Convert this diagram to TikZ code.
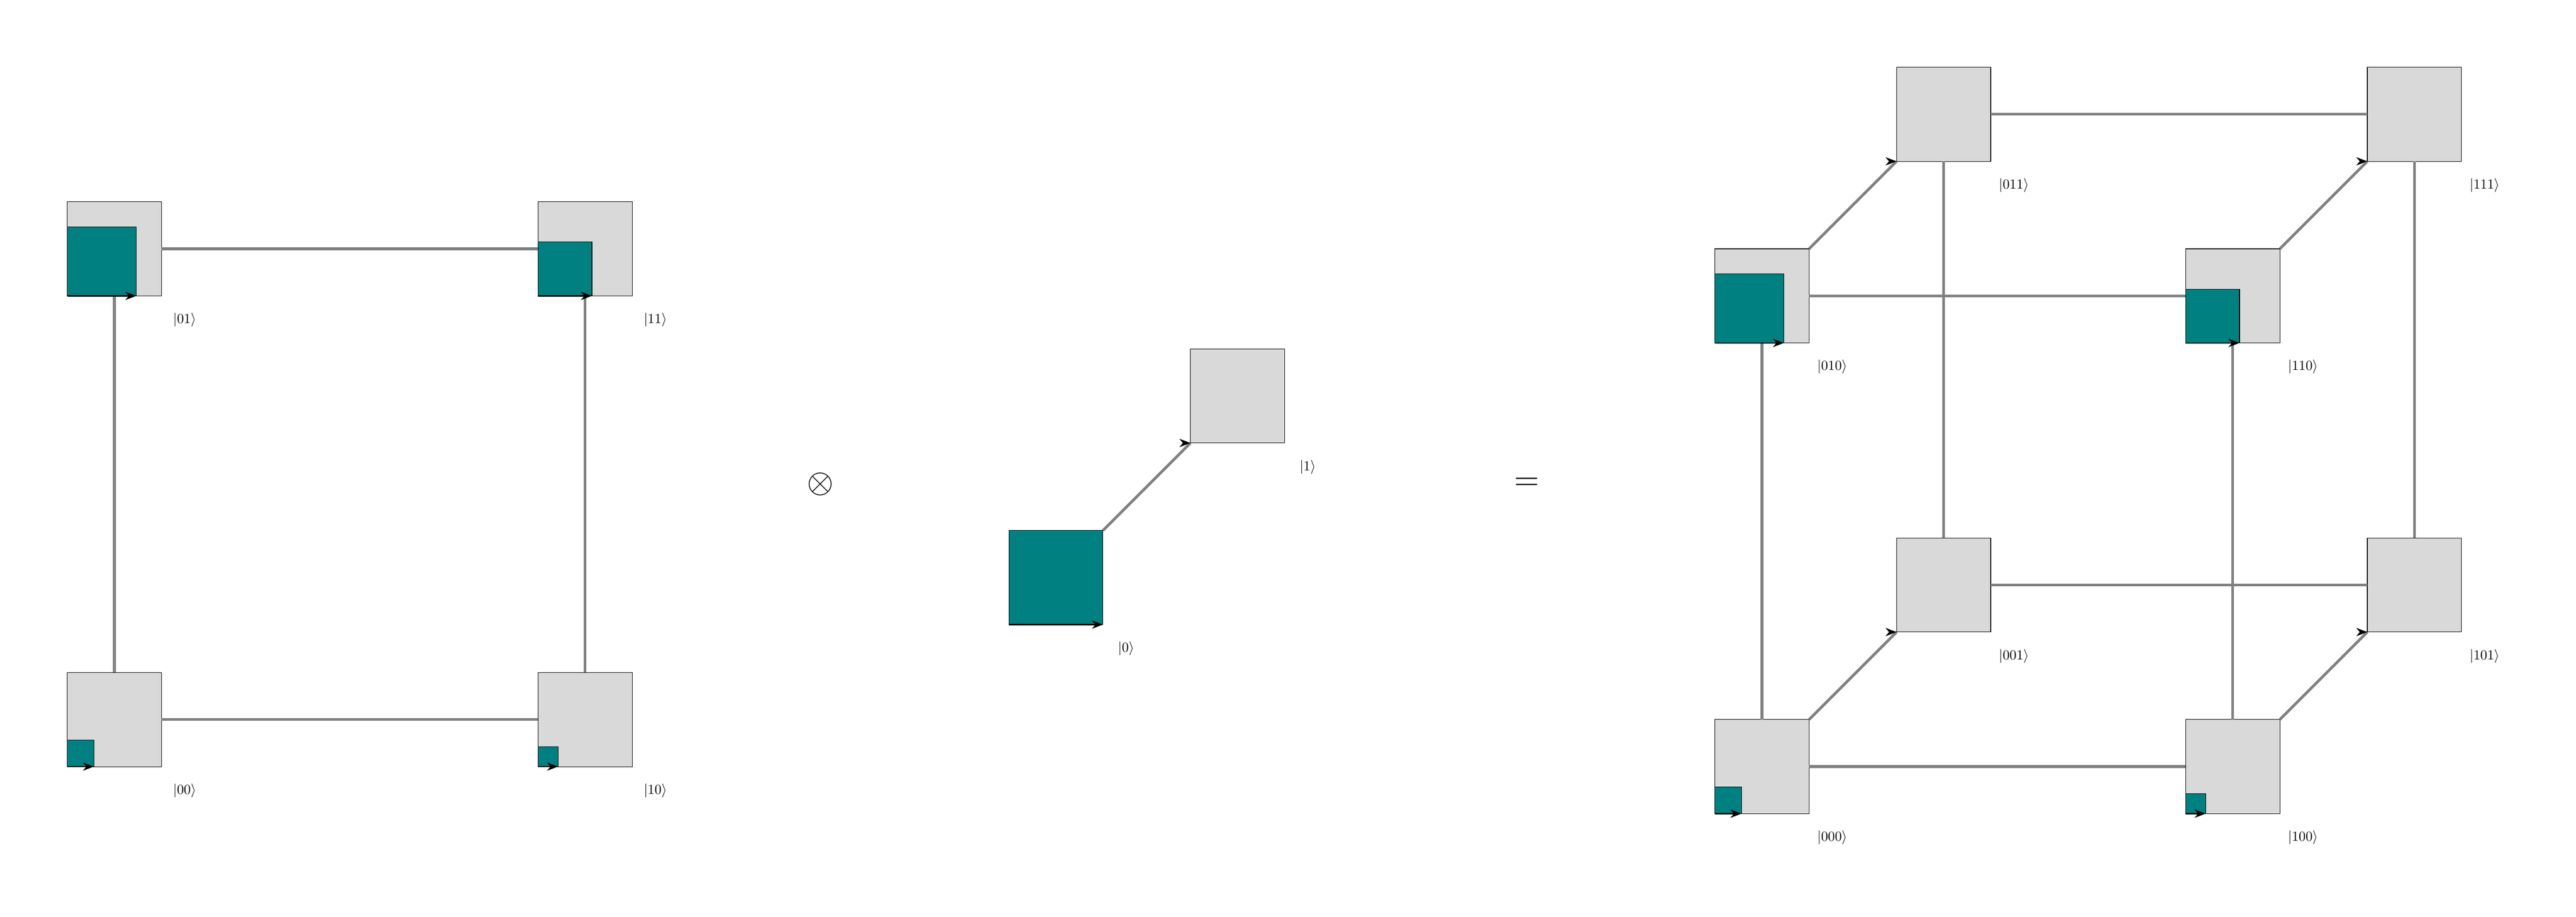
\documentclass[tikz,border=0pt]{standalone}
\usepackage{amssymb}
\usepackage{amsmath}
\usepackage{tikz}
\usetikzlibrary{arrows.meta}

\newcommand{\ket}[1]{\lvert #1\rangle}

\tikzset{
  cell/.style={draw, fill=gray!30, minimum size=2.4cm, inner sep=0pt, outer sep=0pt},
  amp/.style={draw, fill=teal},
  phase/.style={-{Stealth[length=8pt,width=6pt,inset=2.5pt]}, line width=0.9pt},
  link/.style={draw=gray, line width=2pt},
}

\begin{document}
\begin{tikzpicture}
  \useasboundingbox (-2.917,-5.027) rectangle (62.75,18.343);

  % two qubits
  \node[cell] (b00) at (0,0) {};
  \node[cell] (b10) at (12,0) {};
  \node[cell] (b01) at (0,12) {};
  \node[cell] (b11) at (12,12) {};

  \draw[link] (b00.east) -- (b10.west);
  \draw[link] (b01.east) -- (b11.west);
  \draw[link] (b00.north) -- (b01.south);
  \draw[link] (b10.north) -- (b11.south);

  \draw[amp] (b00.south west) rectangle ++(0.677,0.677);
  \draw[amp] (b10.south west) rectangle ++(0.509,0.509);
  \draw[amp] (b01.south west) rectangle ++(1.759,1.759);
  \draw[amp] (b11.south west) rectangle ++(1.373,1.373);
  \draw[phase] (b00.south west) -- ++(0.677,0);
  \draw[phase] (b10.south west) -- ++(0.509,0);
  \draw[phase] (b01.south west) -- ++(1.759,0);
  \draw[phase] (b11.south west) -- ++(1.373,0);

  \node (t00) at ([shift={(0.59,-0.61)}]b00.south east) {$\ket{00}$};
  \node (t10) at ([shift={(0.59,-0.61)}]b10.south east) {$\ket{10}$};
  \node (t01) at ([shift={(0.59,-0.61)}]b01.south east) {$\ket{01}$};
  \node (t11) at ([shift={(0.59,-0.61)}]b11.south east) {$\ket{11}$};

  \node (otimes) at (18,6) {\Huge $\otimes$};

  % one qubit
  \node[cell] (k0) at (24,3.62) {};
  \node[cell] (k1) at (28.63,8.25) {};

  \draw[link] (k0.north east) -- (k1.south west);

  \draw[amp] (k0.south west) rectangle ++(2.4,2.4);
  \draw[phase] (k0.south west) -- ++(2.4,0);
  \draw[phase] ([xshift=-1pt]k1.south west) -- (k1.south west);

  \node (t0) at ([shift={(0.59,-0.61)}]k0.south east) {$\ket{0}$};
  \node (t1) at ([shift={(0.59,-0.61)}]k1.south east) {$\ket{1}$};

  \node (eq) at (36,6) {\Huge $=$};

  % three qubits
  \node[cell] (b000) at (42,-1.2) {};
  \node[cell] (b100) at (54,-1.2) {};
  \node[cell] (b010) at (42,10.8) {};
  \node[cell] (b110) at (54,10.8) {};
  \node[cell] (b001) at (46.63,3.43) {};
  \node[cell] (b101) at (58.63,3.43) {};
  \node[cell] (b011) at (46.63,15.43) {};
  \node[cell] (b111) at (58.63,15.43) {};

  \draw[link] (b001.east) -- (b101.west);
  \draw[link] (b011.east) -- (b111.west);
  \draw[link] (b001.north) -- (b011.south);
  \draw[link] (b101.north) -- (b111.south);
  \draw[link] (b000.east) -- (b100.west);
  \draw[link] (b010.east) -- (b110.west);
  \draw[link] (b000.north) -- (b010.south);
  \draw[link] (b100.north) -- (b110.south);
  \draw[link] (b000.north east) -- (b001.south west);
  \draw[link] (b100.north east) -- (b101.south west);
  \draw[link] (b010.north east) -- (b011.south west);
  \draw[link] (b110.north east) -- (b111.south west);

  \draw[amp] (b000.south west) rectangle ++(0.677,0.677);
  \draw[amp] (b100.south west) rectangle ++(0.509,0.509);
  \draw[amp] (b010.south west) rectangle ++(1.759,1.759);
  \draw[amp] (b110.south west) rectangle ++(1.373,1.373);
  \draw[phase] (b000.south west) -- ++(0.677,0);
  \draw[phase] (b100.south west) -- ++(0.509,0);
  \draw[phase] (b010.south west) -- ++(1.759,0);
  \draw[phase] (b110.south west) -- ++(1.373,0);
  \draw[phase] ([xshift=-1pt]b001.south west) -- (b001.south west);
  \draw[phase] ([xshift=-1pt]b101.south west) -- (b101.south west);
  \draw[phase] ([xshift=-1pt]b011.south west) -- (b011.south west);
  \draw[phase] ([xshift=-1pt]b111.south west) -- (b111.south west);

  \node (t000) at ([shift={(0.59,-0.61)}]b000.south east) {$\ket{000}$};
  \node (t100) at ([shift={(0.59,-0.61)}]b100.south east) {$\ket{100}$};
  \node (t010) at ([shift={(0.59,-0.61)}]b010.south east) {$\ket{010}$};
  \node (t110) at ([shift={(0.59,-0.61)}]b110.south east) {$\ket{110}$};
  \node (t001) at ([shift={(0.59,-0.61)}]b001.south east) {$\ket{001}$};
  \node (t101) at ([shift={(0.59,-0.61)}]b101.south east) {$\ket{101}$};
  \node (t011) at ([shift={(0.59,-0.61)}]b011.south east) {$\ket{011}$};
  \node (t111) at ([shift={(0.59,-0.61)}]b111.south east) {$\ket{111}$};
\end{tikzpicture}
\end{document}
